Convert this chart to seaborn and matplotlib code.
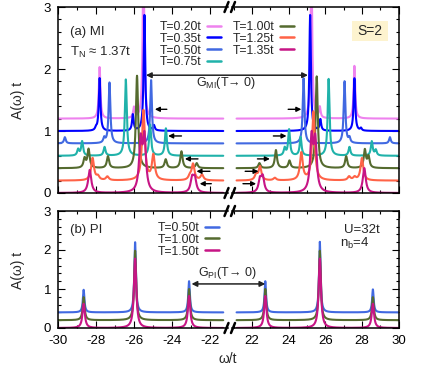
import numpy as np
import pandas as pd
import matplotlib
matplotlib.use('Agg')
import matplotlib.pyplot as plt
from matplotlib.lines import Line2D
from matplotlib.patches import ConnectionPatch, Rectangle
from matplotlib.ticker import MultipleLocator
import seaborn as sns

# %% Data
# (a) MI: peak positions (omega/t) and heights above each curve's offset
mi_temps = ['0.20', '0.35', '0.50', '0.75', '1.00', '1.25', '1.35']
mi_offsets = [1.2, 1.0, 0.8, 0.6, 0.4, 0.2, 0.0]
mi_widths = [0.05, 0.05, 0.055, 0.06, 0.07, 0.09, 0.095]
mi_colors = ['#ee82ee', '#0000ff', '#4169e1', '#20b2aa', '#556b2f', '#ff6347', '#c71585']

pos_020 = [-27.81, -26.0, -25.5, 25.24, 25.7, 27.59]
amp_020 = [0.83, 0.17, 2.6, 2.6, 0.17, 0.85]
pos_035 = [-28.0, -27.81, -26.06, -25.45, -24.95, 25.17, 25.73, 27.59, 27.95]
amp_035 = [0.04, 0.85, 0.26, 1.87, 0.08, 1.87, 0.18, 0.85, 0.04]
pos_050 = [-29.64, -27.57, -27.29, -25.1, 24.81, 27.05, 27.32, 29.53]
amp_050 = [0.10, 0.08, 0.98, 1.02, 1.05, 1.0, 0.08, 0.10]
pos_075 = [-28.94, -28.73, -27.55, -26.43, -25.15, -24.32,
           23.78, 24.02, 24.65, 26.18, 27.32, 28.54, 28.76]
amp_075 = [0.10, 0.23, 0.14, 1.23, 0.5, 0.44,
           0.12, 0.42, 0.3, 1.24, 0.14, 0.23, 0.09]
pos_100 = [-28.6, -28.39, -27.37, -25.84, -24.33, -23.5, -22.7,
           22.4, 23.3, 24.04, 25.53, 27.14, 28.16, 28.36]
amp_100 = [0.15, 0.30, 0.19, 1.49, 0.14, 0.27, 0.08,
           0.08, 0.29, 0.12, 1.48, 0.19, 0.29, 0.18]
pos_125 = [-28.18, -27.9, -27.4, -25.5, -24.98, -23.06, -22.89, -22.42,
           22.22, 22.43, 23.24, 24.69, 25.35, 27.3, 27.6, 28.0]
amp_125 = [0.36, 0.06, 0.06, 1.13, 0.40, 0.06, 0.26, 0.09,
           0.09, 0.22, 0.04, 0.44, 1.11, 0.06, 0.05, 0.36]
pos_135 = [-28.33, -25.65, -25.45, -22.94, -22.8,
           22.43, 22.58, 25.25, 25.45, 28.13]
amp_135 = [0.37, 0.8, 0.85, 0.22, 0.22,
           0.2, 0.24, 0.85, 0.8, 0.40]
mi_pos = [pos_020, pos_035, pos_050, pos_075, pos_100, pos_125, pos_135]
mi_amp = [amp_020, amp_035, amp_050, amp_075, amp_100, amp_125, amp_135]

# small arrows in (a): height, left side tip/tail, right side tail/tip
arrow_y = [1.35, 0.92, 0.55, 0.35, 0.15]
left_tip = [-24.9, -24.2, -23.32, -22.71, -22.54]
left_tail = [-24.27, -23.5, -22.63, -22.0, -21.93]
right_tail = [23.97, 23.16, 22.29, 21.62, 21.5]
right_tip = [24.69, 23.88, 22.97, 22.35, 22.22]

# (b) PI
pi_temps = ['0.50', '1.00', '1.50']
pi_offsets = [0.4, 0.2, 0.0]
pi_widths = [0.05, 0.06, 0.075]
pi_colors = ['#4169e1', '#556b2f', '#c71585']
pi_pos = [-28.65, -25.94, -23.1, 22.72, 25.7, 28.6]
amp_pi_050 = [0.58, 1.80, 0.80, 0.80, 1.81, 0.59]
amp_pi_100 = [0.59, 1.78, 0.80, 0.80, 1.78, 0.59]
amp_pi_150 = [0.62, 1.78, 0.82, 0.82, 1.78, 0.62]
pi_amp = [amp_pi_050, amp_pi_100, amp_pi_150]

g_mi = (-25.37, 25.05, 1.9)
g_pi = (-22.97, 22.72, 1.13)


# %% Build long-form tables
def spectra(temps, offsets, widths, positions, amplitudes, grid):
    frames = []
    for T, off, g, pos, amp in zip(temps, offsets, widths, positions, amplitudes):
        y = np.full_like(grid, off)
        for p, a in zip(pos, amp):
            y += a * g ** 2 / ((grid - p) ** 2 + g ** 2)
        frames.append(pd.DataFrame({'omega': grid, 'A': y, 'T': 'T=' + T + 't'}))
    return pd.concat(frames, ignore_index=True)


grid_l = np.linspace(-30, -21.3, 3000)
grid_r = np.linspace(21.15, 30, 3000)
mi_l = spectra(mi_temps, mi_offsets, mi_widths, mi_pos, mi_amp, grid_l)
mi_r = spectra(mi_temps, mi_offsets, mi_widths, mi_pos, mi_amp, grid_r)
pi_l = spectra(pi_temps, pi_offsets, pi_widths, [pi_pos] * 3, pi_amp, grid_l)
pi_r = spectra(pi_temps, pi_offsets, pi_widths, [pi_pos] * 3, pi_amp, grid_r)

mi_labels = ['T=' + t + 't' for t in mi_temps]
pi_labels = ['T=' + t + 't' for t in pi_temps]
mi_pal = dict(zip(mi_labels, mi_colors))
pi_pal = dict(zip(pi_labels, pi_colors))

# %% PLOT
sns.set_theme(style='ticks', rc={'axes.unicode_minus': False,
                                 'axes.linewidth': 1.1,
                                 'xtick.direction': 'in', 'ytick.direction': 'in'})
plt.rcParams['font.family'] = ['Liberation Sans', 'DejaVu Sans']
plt.rcParams['mathtext.fontset'] = 'custom'
plt.rcParams['mathtext.rm'] = 'Liberation Sans'
plt.rcParams['mathtext.it'] = 'Liberation Sans:italic'

W, H = 421, 374
fig = plt.figure(figsize=(W / 100, H / 100), dpi=100)


def box(x0, x1, y0, y1):
    return [x0 / W, 1 - y1 / H, (x1 - x0) / W, (y1 - y0) / H]


ax_tl = fig.add_axes(box(58, 228, 7, 193))
ax_tr = fig.add_axes(box(232, 398.5, 7, 193))
ax_bl = fig.add_axes(box(58, 228, 211, 328))
ax_br = fig.add_axes(box(232, 398.5, 211, 328))

for ax, df, pal, order in [(ax_tl, mi_l, mi_pal, mi_labels), (ax_tr, mi_r, mi_pal, mi_labels),
                           (ax_bl, pi_l, pi_pal, pi_labels), (ax_br, pi_r, pi_pal, pi_labels)]:
    sns.lineplot(data=df, x='omega', y='A', hue='T', hue_order=order, palette=pal,
                 estimator=None, sort=False, legend=False, linewidth=1.5, ax=ax)


def style_axes(ax, side, xlabels):
    ax.set_ylim(0, 3)
    if side == 'L':
        ax.set_xlim(-30, -21.05)
    else:
        ax.set_xlim(20.9, 30)
    ax.xaxis.set_major_locator(MultipleLocator(2))
    ax.xaxis.set_minor_locator(MultipleLocator(1))
    ax.yaxis.set_major_locator(MultipleLocator(1))
    ax.yaxis.set_minor_locator(MultipleLocator(0.2))
    ax.tick_params(which='both', direction='in', top=True, bottom=True,
                   left=(side == 'L'), right=(side == 'R'),
                   labelleft=(side == 'L'), labelbottom=xlabels,
                   labelsize=9.5, width=0.8, pad=5, colors='black')
    ax.tick_params(which='major', length=5)
    ax.tick_params(which='minor', length=2.5)
    ax.spines['right' if side == 'L' else 'left'].set_visible(False)
    for s in ax.spines.values():
        s.set_color('black')
    ax.patch.set_alpha(0)
    ax.set_xlabel('')
    ax.set_ylabel('')


style_axes(ax_tl, 'L', False)
style_axes(ax_tr, 'R', False)
style_axes(ax_bl, 'L', True)
style_axes(ax_br, 'R', True)

# small arrows in (a)
akw = dict(arrowstyle='-|>', color='black', lw=1.0, mutation_scale=7, shrinkA=0, shrinkB=0)
for y, tip, tail in zip(arrow_y, left_tip, left_tail):
    ax_tl.annotate('', xy=(tip, y), xytext=(tail, y), arrowprops=akw)
for y, tip, tail in zip(arrow_y, right_tip, right_tail):
    ax_tr.annotate('', xy=(tip, y), xytext=(tail, y), arrowprops=akw)

# gap arrows across the break
for (xa, xb, y), axa, axb in [(g_mi, ax_tl, ax_tr), (g_pi, ax_bl, ax_br)]:
    con = ConnectionPatch(xyA=(xa, y), coordsA=axa.transData, xyB=(xb, y),
                          coordsB=axb.transData, arrowstyle='<|-|>', color='#222222',
                          lw=1.1, mutation_scale=8, shrinkA=0, shrinkB=0)
    fig.add_artist(con)

# legends
leg_kw = dict(frameon=False, markerfirst=False, fontsize=8.8, handlelength=1.2,
              handletextpad=0.4, labelspacing=-0.02, borderpad=0, borderaxespad=0,
              loc='upper left', bbox_transform=fig.transFigure)
h_mi = [Line2D([], [], color=c, lw=1.8) for c in mi_colors]
fig.legend(h_mi, mi_labels, ncol=2, columnspacing=0.95,
           bbox_to_anchor=(160 / W, 1 - 21 / H), **leg_kw)
h_pi = [Line2D([], [], color=c, lw=1.8) for c in pi_colors]
fig.legend(h_pi, pi_labels, bbox_to_anchor=(158 / W, 1 - 222 / H), **leg_kw)


def ftext(x, y, s, **kw):
    fig.text(x / W, 1 - y / H, s, **kw)


ftext(70, 35, '(a) MI', fontsize=9.5, va='baseline')
ftext(70, 56, r'T$_\mathrm{N}$ ≈ 1.37t', fontsize=9.5, va='baseline')
fig.add_artist(Rectangle((352 / W, 1 - 40.7 / H), 36 / W, 20 / H,
                         transform=fig.transFigure, fc='#fdf3cf', ec='none'))
ftext(370, 31, 'S=2', fontsize=10, ha='center', va='center')
ftext(226, 83, r'G$_\mathrm{MI}$(T→ 0)', fontsize=9, ha='center', va='center')

ftext(70, 233, '(b) PI', fontsize=9.5, va='baseline')
ftext(344, 233, 'U=32t', fontsize=9.5, va='baseline')
ftext(340, 247, r'n$_\mathrm{b}$=4', fontsize=9.5, va='baseline')
ftext(227, 273, r'G$_\mathrm{PI}$(T→ 0)', fontsize=9, ha='center', va='center')

ftext(18, 100, 'A(ω) t', fontsize=10, rotation=90, ha='center', va='center')
ftext(18, 270, 'A(ω) t', fontsize=10, rotation=90, ha='center', va='center')
ftext(228, 359, 'ω/t', fontsize=10, ha='center', va='center')

# break marks
for cy in [7, 193, 211, 328]:
    for cx in [226.5, 233]:
        fig.add_artist(Line2D([(cx - 2) / W, (cx + 2) / W],
                              [1 - (cy + 5) / H, 1 - (cy - 5) / H],
                              transform=fig.transFigure, color='black', lw=1.8))

fig.savefig('out.png', dpi=100)
